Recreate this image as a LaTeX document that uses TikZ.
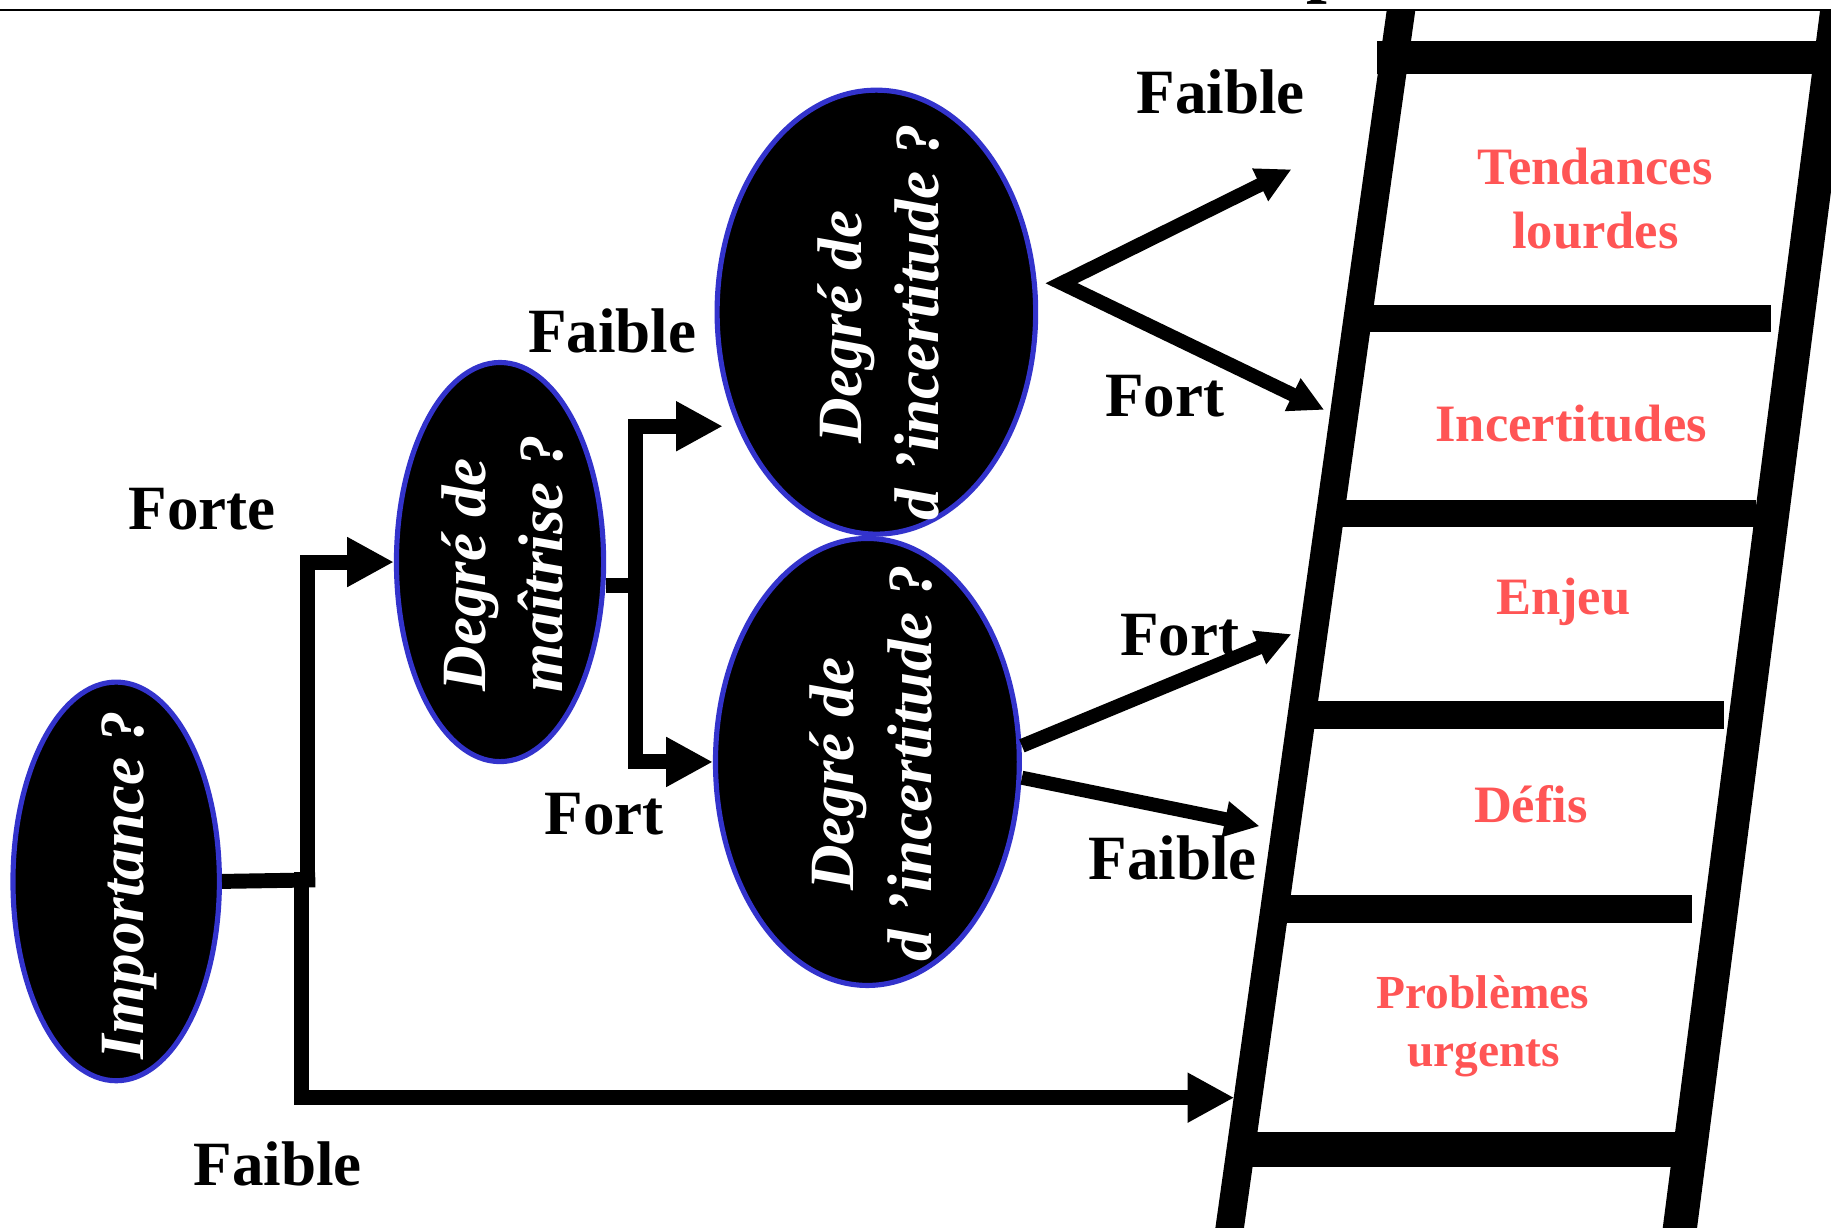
\documentclass[tikz,border=0pt]{standalone}
\usepackage{fontspec}
\setmainfont{Liberation Serif}
\usetikzlibrary{arrows.meta,shapes.geometric}
\definecolor{ellborder}{RGB}{51,51,204}
\definecolor{ladred}{RGB}{255,85,85}
\begin{document}
\begin{tikzpicture}[x=0.5pt,y=-0.5pt,
  qnode/.style={ellipse, draw=ellborder, line width=2.2pt, fill=black, inner sep=0pt},
  etxt/.style={text=white, font=\fontsize{27}{32}\selectfont\bfseries\itshape, inner sep=0pt, rotate=90},
  lbl/.style={font=\fontsize{27}{32}\selectfont\bfseries, inner sep=0pt, anchor=base west},
  rlbl/.style={text=ladred, font=\fontsize{22.5}{26}\selectfont\bfseries, inner sep=0pt, anchor=base},
  rlblsmall/.style={rlbl, font=\fontsize{20.3}{24}\selectfont\bfseries},
  ortholine/.style={line width=6.4pt},
  orthoarrow/.style={line width=6.4pt, -{Triangle[length=20pt,width=20pt]}},
  diagtwo/.style={line width=6pt, {Triangle[length=15pt,width=14.5pt]}-{Triangle[length=15pt,width=14.5pt]}},
  diagarrow/.style={line width=6pt, -{Triangle[length=15pt,width=14.5pt]}},
  rail/.style={fill=black},
  rungbar/.style={fill=black}
]
\useasboundingbox (0,0) rectangle (1568,1051);

% top rule and cut title fragment
\node[font=\fontsize{32}{36}\selectfont\bfseries, inner sep=0pt, anchor=base west] (ttl) at (1118,-10) {p};
\draw[line width=0.75pt] (0,8.7) -- (1568,8.7);

% ladder
\fill[rail] (1187.5,9) -- (1212,9) -- (1064.1,1060) -- (1039.6,1060) -- cycle;
\fill[rail] (1558.6,9) -- (1588,9) -- (1452.2,1060) -- (1422.8,1060) -- cycle;
\fill[rungbar] (1179,34.8) rectangle (1600,63.4);
\fill[rungbar] (1165,261) rectangle (1517,284);
\fill[rungbar] (1140,428) rectangle (1504,451);
\fill[rungbar] (1115,600.6) rectangle (1476,624);
\fill[rungbar] (1090,766) rectangle (1449,790);
\fill[rungbar] (1060,969) rectangle (1458,999);

% ladder labels
\node[rlbl] (r1a) at (1366,157.6) {Tendances};
\node[rlbl] (r1b) at (1366.3,213) {lourdes};
\node[rlbl] (r2) at (1345.4,378) {Incertitudes};
\node[rlbl] (r3) at (1338.7,525.8) {Enjeu};
\node[rlbl] (r4) at (1311,704.6) {Défis};
\node[rlblsmall] (r5a) at (1269.8,864) {Problèmes};
\node[rlblsmall] (r5b) at (1270.7,913) {urgents};

% question ellipses
\node[qnode, minimum width=88.4pt, minimum height=170.7pt] (imp) at (99.5,754.8) {};
\node[qnode, minimum width=88.7pt, minimum height=170.9pt] (mait) at (428.2,481.3) {};
\node[qnode, minimum width=136.4pt, minimum height=190.1pt] (inc1) at (750.5,267.3) {};
\node[qnode, minimum width=130.1pt, minimum height=191.4pt] (inc2) at (742.8,652.5) {};

\node[etxt, anchor=base] (timp) at (122.5,757.7) {Importance ?};
\node[etxt, anchor=base west] (tm1) at (415.4,592.3) {Degré de};
\node[etxt, anchor=base west] (tm2) at (481.9,593.2) {maîtrise ?};
\node[etxt, anchor=base] (ti1a) at (737.5,280) {Degré de};
\node[etxt, anchor=base] (ti1b) at (804,276) {d ’incertitude ?};
\node[etxt, anchor=base] (ti2a) at (731,663) {Degré de};
\node[etxt, anchor=base] (ti2b) at (797.6,653.5) {d ’incertitude ?};

% branch labels
\node[lbl] (lfa1) at (973,97.3) {Faible};
\node[lbl] (lfo1) at (946,357) {Fort};
\node[lbl] (lfa2) at (452,302) {Faible};
\node[lbl] (lfte) at (110,453.3) {Forte};
\node[lbl] (lfo2) at (466,714.3) {Fort};
\node[lbl] (lfo3) at (959,561.7) {Fort};
\node[lbl] (lfa3) at (931.8,753.4) {Faible};
\node[lbl] (lfa4) at (165.3,1015.5) {Faible};

% connector coordinates
\coordinate (jA) at (270,753.5);
\coordinate (jB) at (263.5,760);
\coordinate (jC) at (258,747);
\coordinate (jD) at (551,501.5);
\coordinate (jE) at (544.5,365);
\coordinate (tUp) at (619,365);
\coordinate (v1) at (909,242.5);
\coordinate (lad1) at (1106,145);
\coordinate (lad2) at (1134,351);
\coordinate (lad3) at (1106,543);
\coordinate (lad4) at (1078.7,707.5);
\coordinate (lad5) at (1057,940);

% connectors
\draw[ortholine] (imp.east) -- (jA);
\draw[orthoarrow] (jB) |- (mait.west);
\draw[orthoarrow] (jC) |- (lad5);
\draw[ortholine] (mait.east |- jD) -- (jD);
\draw[line width=6.4pt, {Triangle[length=20pt,width=20pt]}-{Triangle[length=20pt,width=20pt]}] (inc2.west) -| (jE) -- (tUp);
\draw[diagtwo] (lad1) -- (v1) -- (lad2);
\draw[diagarrow] ([yshift=6.9pt]inc2.east) -- (lad3);
\draw[diagarrow] ([yshift=-6.75pt]inc2.east) -- (lad4);
\end{tikzpicture}
\end{document}
